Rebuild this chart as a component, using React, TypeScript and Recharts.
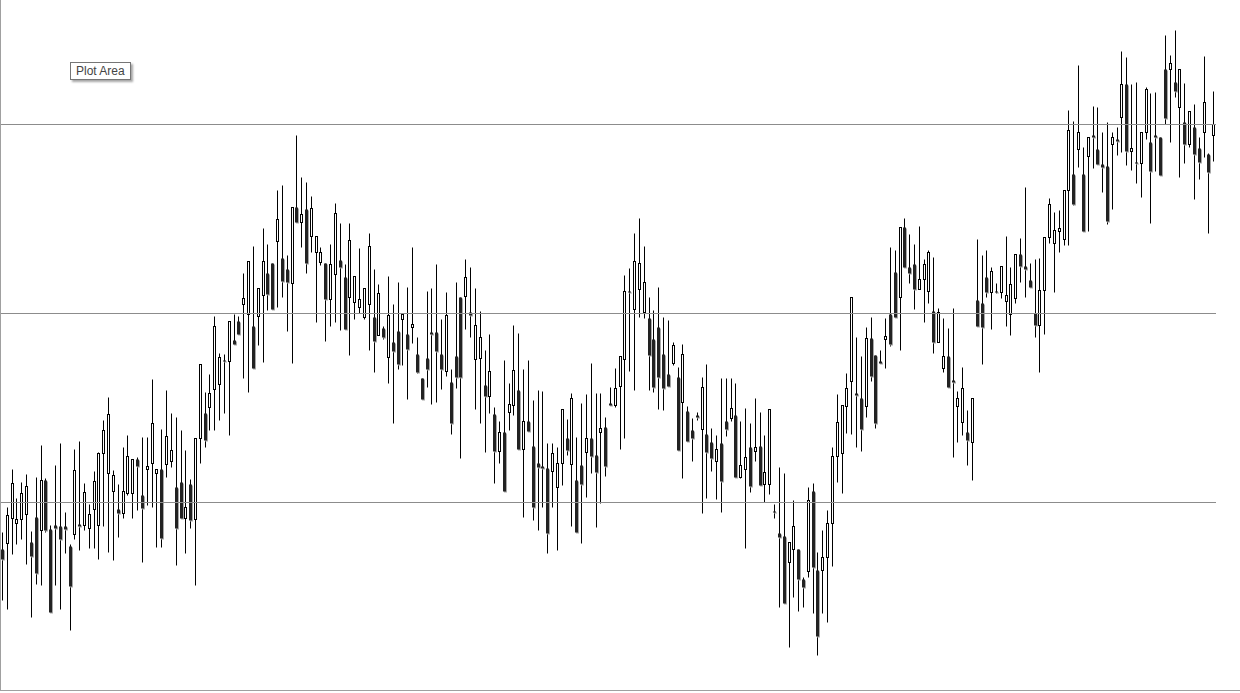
import { ComposedChart, Bar, XAxis, YAxis, ReferenceLine } from 'recharts'

// one candle per trading day (arbitrary price units)
const opens = [
  142, 148, 173, 168, 172, 177, 149, 174, 161, 211,
  162, 166, 165, 165, 145, 157, 167, 166, 163, 182,
  166, 238, 218, 200, 182, 178, 198, 198, 232, 196,
  222, 228, 218, 222, 227, 230, 204, 209, 173, 207,
  172, 253, 278, 284, 302, 307, 331, 330, 351, 370,
  387, 377, 365, 375, 396, 418, 428, 450, 433, 422,
  408, 484, 469, 482, 455, 439, 429, 428, 392, 417,
  431, 414, 394, 389, 384, 374, 387, 374, 356, 363,
  334, 349, 360, 372, 357, 364, 337, 313, 333, 359,
  359, 337, 320, 309, 335, 394, 395, 379, 332, 333,
  306, 295, 277, 240, 259, 279, 286, 301, 242, 270,
  245, 228, 225, 223, 220, 204, 228, 253, 227, 211,
  226, 239, 253, 236, 259, 264, 288, 286, 305, 332,
  400, 382, 402, 379, 373, 352, 364, 337, 317, 328,
  314, 289, 280, 261, 276, 262, 257, 249, 230, 248,
  270, 273, 276, 214, 222, 244, 240, 245, 207, 207,
  180, 158, 155, 129, 142, 142, 112, 120, 200, 121,
  121, 134, 168, 235, 238, 285, 310, 298, 293, 285,
  353, 336, 330, 352, 377, 419, 394, 464, 424, 427,
  402, 412, 400, 380, 349, 323, 335, 311, 285, 269,
  259, 249, 391, 388, 414, 399, 400, 399, 390, 377,
  393, 437, 425, 411, 378, 366, 401, 454, 448, 460,
  452, 501, 517, 542, 517, 535, 556, 542, 527, 525,
  547, 552, 574, 607, 540, 529, 528, 559, 549, 556,
  554, 622, 622, 609, 584, 569, 547, 564, 543, 559,
  537, 556,
]

const highs = [
  159, 184, 222, 193, 209, 217, 160, 214, 246, 213,
  166, 226, 248, 179, 147, 242, 250, 208, 187, 220,
  239, 271, 294, 221, 207, 244, 256, 232, 234, 254,
  254, 312, 222, 262, 301, 278, 274, 261, 241, 212,
  253, 327, 299, 317, 375, 338, 337, 370, 377, 375,
  418, 430, 445, 403, 463, 447, 428, 501, 506, 436,
  484, 556, 514, 509, 495, 455, 444, 428, 447, 488,
  468, 427, 468, 415, 443, 403, 458, 422, 407, 365,
  415, 387, 409, 377, 404, 444, 354, 313, 400, 403,
  427, 372, 399, 322, 409, 394, 432, 424, 403, 380,
  341, 357, 284, 270, 331, 308, 366, 358, 322, 331,
  291, 301, 300, 248, 248, 244, 282, 272, 298, 254,
  288, 297, 328, 298, 298, 274, 304, 323, 335, 416,
  423, 458, 473, 445, 394, 381, 404, 374, 371, 349,
  324, 347, 285, 273, 279, 314, 327, 263, 256, 313,
  313, 313, 308, 270, 283, 268, 293, 279, 256, 282,
  187, 224, 218, 149, 191, 142, 114, 204, 208, 139,
  161, 181, 244, 297, 286, 318, 394, 354, 335, 364,
  374, 336, 341, 373, 444, 441, 464, 473, 457, 447,
  465, 432, 441, 434, 383, 373, 363, 383, 300, 324,
  281, 293, 452, 436, 441, 424, 408, 425, 455, 424,
  437, 453, 504, 428, 432, 433, 454, 493, 479, 481,
  501, 581, 570, 626, 544, 554, 585, 584, 559, 569,
  559, 564, 640, 634, 607, 609, 559, 604, 598, 599,
  554, 656, 636, 661, 622, 608, 580, 587, 554, 635,
  538, 600,
]

const lows = [
  91, 82, 137, 147, 152, 127, 74, 107, 106, 159,
  79, 106, 82, 138, 61, 152, 141, 161, 143, 143,
  132, 165, 139, 131, 154, 173, 196, 173, 181, 129,
  186, 184, 144, 144, 214, 224, 126, 173, 138, 163,
  106, 228, 244, 261, 261, 271, 278, 256, 347, 357,
  313, 299, 323, 346, 329, 381, 382, 384, 394, 360,
  328, 469, 444, 418, 439, 369, 426, 350, 365, 369,
  361, 362, 336, 372, 378, 372, 341, 319, 356, 352,
  308, 268, 322, 326, 292, 348, 318, 292, 304, 287,
  289, 302, 315, 257, 303, 233, 362, 354, 282, 268,
  239, 278, 208, 228, 200, 261, 276, 242, 174, 260,
  171, 161, 184, 138, 184, 141, 206, 236, 165, 159,
  148, 194, 218, 164, 188, 215, 286, 284, 242, 253,
  320, 301, 374, 373, 301, 299, 282, 281, 305, 326,
  241, 213, 250, 230, 271, 178, 193, 220, 192, 179,
  255, 270, 214, 213, 143, 199, 230, 206, 189, 197,
  173, 84, 88, 44, 94, 80, 84, 114, 78, 36,
  78, 69, 125, 209, 198, 258, 257, 244, 240, 274,
  310, 263, 328, 323, 345, 374, 341, 424, 408, 382,
  402, 369, 388, 338, 349, 319, 304, 234, 249, 256,
  226, 211, 365, 327, 394, 362, 398, 393, 365, 356,
  388, 409, 394, 404, 354, 319, 357, 448, 399, 439,
  446, 446, 486, 524, 460, 460, 523, 527, 499, 467,
  482, 536, 539, 526, 521, 508, 494, 552, 468, 520,
  516, 567, 549, 594, 514, 528, 544, 492, 512, 534,
  458, 530,
]

const closes = [
  132, 176, 208, 172, 198, 205, 135, 118, 211, 161,
  79, 163, 152, 162, 105, 221, 165, 199, 177, 210,
  238, 261, 277, 216, 178, 200, 235, 232, 225, 183,
  225, 268, 222, 153, 255, 241, 163, 173, 184, 171,
  253, 327, 251, 298, 365, 334, 330, 370, 347, 357,
  393, 430, 323, 403, 430, 397, 382, 472, 410, 409,
  484, 469, 477, 428, 483, 455, 439, 392, 427, 478,
  424, 362, 451, 415, 392, 403, 445, 350, 398, 354,
  376, 340, 327, 377, 342, 367, 319, 292, 322, 357,
  340, 322, 376, 268, 314, 314, 414, 376, 366, 354,
  295, 320, 240, 259, 200, 287, 321, 242, 270, 260,
  184, 224, 223, 158, 238, 228, 282, 241, 293, 159,
  207, 253, 235, 219, 263, 225, 286, 303, 335, 400,
  399, 430, 428, 409, 336, 304, 314, 303, 305, 346,
  241, 337, 250, 253, 274, 304, 239, 233, 242, 210,
  262, 283, 214, 226, 234, 205, 244, 206, 219, 282,
  179, 154, 88, 149, 165, 112, 104, 191, 124, 55,
  134, 168, 235, 269, 286, 303, 394, 296, 262, 353,
  315, 268, 328, 355, 347, 374, 464, 424, 418, 402,
  412, 427, 439, 349, 379, 335, 304, 309, 293, 303,
  251, 293, 365, 364, 399, 420, 399, 425, 396, 407,
  437, 425, 422, 404, 366, 401, 454, 487, 461, 463,
  501, 561, 487, 559, 460, 554, 554, 527, 524, 470,
  554, 550, 607, 540, 543, 528, 559, 602, 520, 554,
  516, 573, 628, 600, 622, 547, 580, 537, 529, 589,
  519, 567,
]

const gridLevels = [189, 378, 567]

const data = opens.map((open, i) => ({
  day: i + 1,
  open,
  high: highs[i],
  low: lows[i],
  close: closes[i],
}))

// bar spans low..high, so open/close are placed with the same px-per-unit
function Candle(props: any) {
  const { x, y, width, height, payload } = props
  if (!payload) return null
  const { open, high, low, close } = payload
  const top = Math.min(y, y + height)
  const span = Math.abs(height)
  const perUnit = high > low ? span / (high - low) : 0
  const toY = (v: number) => top + (high - v) * perUnit
  const cx = Math.floor(x + width / 2) + 0.5
  const bodyTop = toY(Math.max(open, close))
  const bodyH = Math.max(toY(Math.min(open, close)) - bodyTop, 1)

  return (
    <g>
      <line x1={cx} x2={cx} y1={top} y2={top + span} stroke="#000" strokeWidth={1} />
      {close >= open ? (
        <rect x={cx - 1} y={bodyTop} width={2} height={bodyH} fill="#fff" stroke="#000" strokeWidth={1} />
      ) : (
        <>
          <rect x={cx - 0.5} y={bodyTop + 1} width={3} height={bodyH} fill="#a8a8a8" />
          <rect x={cx - 1.5} y={bodyTop} width={3} height={bodyH} fill="#222" />
        </>
      )}
    </g>
  )
}

export default function App() {
  return (
    <div style={{ position: 'absolute', left: 0, top: 0, width: 1240, height: 693, background: '#fff', overflow: 'hidden' }}>
      <ComposedChart width={1216} height={693} data={data} margin={{ top: 0, right: 0, bottom: 3, left: 0 }}>
        <XAxis dataKey="day" hide />
        <YAxis hide domain={[1.5, 691.5]} allowDataOverflow />
        {gridLevels.map((v) => (
          <ReferenceLine key={v} y={v} stroke="#8c8c8c" strokeWidth={1} />
        ))}
        <Bar dataKey={(d: any) => [d.low, d.high]} shape={<Candle />} isAnimationActive={false} />
      </ComposedChart>

      <div style={{ position: 'absolute', left: 0, top: 0, width: 1, height: 691, background: '#a0a0a0' }} />
      <div style={{ position: 'absolute', left: 0, top: 690, width: 1240, height: 1, background: '#a0a0a0' }} />

      <div
        style={{
          position: 'absolute',
          left: 70,
          top: 62,
          height: 16,
          padding: '0 5px',
          border: '1px solid #767676',
          background: '#fff',
          boxShadow: '2px 2px 2px rgba(0,0,0,0.35)',
          fontFamily: '"Liberation Sans", Arial, sans-serif',
          fontSize: 12,
          lineHeight: '16px',
          color: '#444',
          whiteSpace: 'nowrap',
        }}
      >
        Plot Area
      </div>
    </div>
  )
}
